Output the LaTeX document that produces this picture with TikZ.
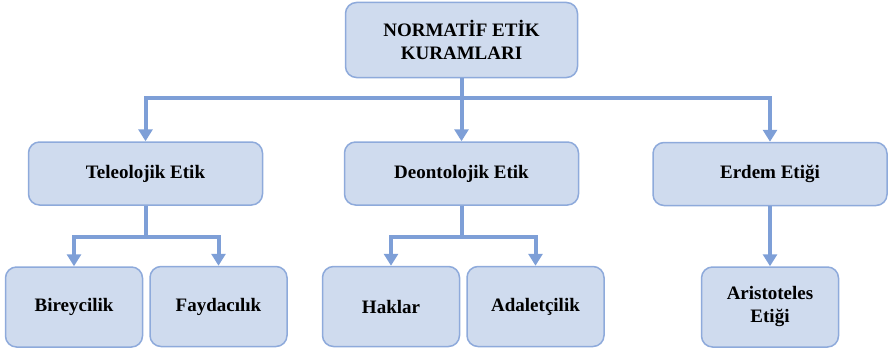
\documentclass[tikz,border=0pt]{standalone}
\usepackage{fontspec}
\setmainfont{Liberation Serif}
\usetikzlibrary{arrows.meta}
\definecolor{boxfill}{HTML}{CFDBEE}
\definecolor{boxline}{HTML}{8EAADB}
\definecolor{linkblue}{HTML}{7E9FD7}
\tikzset{
    kutu/.style = {draw = boxline, fill = boxfill, line width = 1.5pt, rounded corners = 11pt,
        align = center, inner sep = 0pt, font = \bfseries\fontsize{19}{23}\selectfont},
    ust/.style = {kutu, minimum width = 232pt, minimum height = 75pt},
    orta/.style = {kutu, minimum width = 234pt, minimum height = 63pt},
    alt/.style = {kutu, minimum width = 137pt, minimum height = 80pt},
    bag/.style = {draw = linkblue, line width = 4pt, -{Triangle[width = 14pt, length = 12pt]}}
}
\begin{document}
\begin{tikzpicture}[x = 1pt, y = -1pt]
            \useasboundingbox (0,0) rectangle (888,353);
            % ust kutu
            \node[ust] (normatif) at (461.5,40) {NORMATİF ETİK\\KURAMLARI};
            % orta kutular
            \node[orta] (teleo) at (145.5,173.5) {Teleolojik Etik};
            \node[orta] (deon) at (461.5,173.5) {Deontolojik Etik};
            \node[orta] (erdem) at (770,174) {Erdem Etiği};
            % alt kutular
            \node[alt] (birey) at (74,307) {Bireycilik};
            \node[alt] (fayda) at (218.5,306.5) {Faydacılık};
            \node[alt] (haklar) at (391,306.5) {Haklar};
            \node[alt] (adalet) at (535.5,306.5) {Adaletçilik};
            \node[alt] (aris) at (770,307) {Aristoteles\\Etiği};
            % baglantilar
            \coordinate (bar1) at (0,98);
            \coordinate (bar2) at (0,237);
            \draw[bag] (normatif.south) -- (deon.north);
            \draw[bag] (normatif.south |- bar1) -| (teleo.north);
            \draw[bag] (normatif.south |- bar1) -| (erdem.north);
            \draw[bag] (teleo.south) |- (birey.north |- bar2) -- (birey.north);
            \draw[bag] (teleo.south |- bar2) -| (fayda.north);
            \draw[bag] (deon.south) |- (haklar.north |- bar2) -- (haklar.north);
            \draw[bag] (deon.south |- bar2) -| (adalet.north);
            \draw[bag] (erdem.south) -- (aris.north);
\end{tikzpicture}
\end{document}
